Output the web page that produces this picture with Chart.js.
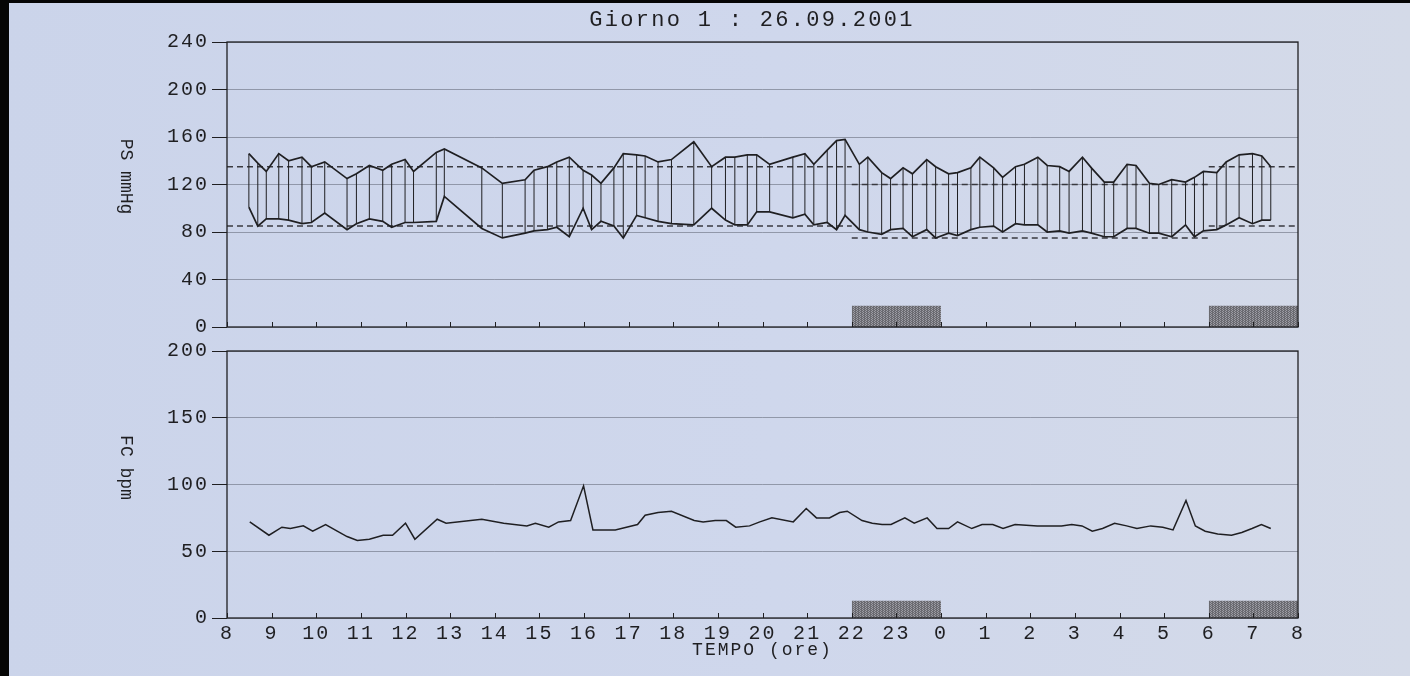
<!DOCTYPE html>
<html>
<head>
<meta charset="utf-8">
<script src="https://cdn.jsdelivr.net/npm/chart.js@4.4.1/dist/chart.umd.min.js"></script>
<style>
  html, body { margin: 0; padding: 0; }
  body {
    width: 1410px; height: 676px; overflow: hidden; position: relative;
    background: linear-gradient(90deg, #cbd4ea 0%, #cfd7ec 55%, #d4dae8 100%);
  }
  #edgeLeft { position: absolute; left: 0; top: 0; width: 9px; height: 676px; background: #050505; }
  #edgeTop { position: absolute; left: 0; top: 0; width: 1410px; height: 3px; background: #050505; }
  #bpChart { position: absolute; left: 0; top: 0; }
  #hrChart { position: absolute; left: 0; top: 336px; }
</style>
</head>
<body>
<div id="edgeLeft"></div>
<div id="edgeTop"></div>
<canvas id="bpChart" width="1410" height="342"></canvas>
<canvas id="hrChart" width="1410" height="340"></canvas>
<script>
// Misurazioni pressione (ore dalle 8 del giorno 1; 24+ = giorno dopo)
const bpTimes = [8.49, 8.69, 8.88, 9.16, 9.38, 9.68, 9.89, 10.19, 10.69, 10.90,
  11.19, 11.49, 11.69, 11.99, 12.18, 12.69, 12.87, 13.71, 14.17, 14.68,
  14.88, 15.18, 15.39, 15.67, 15.98, 16.17, 16.38, 16.67, 16.88, 17.18,
  17.37, 17.66, 17.96, 18.46, 18.86, 19.17, 19.38, 19.66, 19.87, 20.16,
  20.68, 20.95, 21.15, 21.45, 21.66, 21.85, 22.17, 22.36, 22.67, 22.87,
  23.15, 23.36, 23.68, 23.88, 24.17, 24.37, 24.67, 24.87, 25.18, 25.38,
  25.67, 25.87, 26.17, 26.38, 26.66, 26.87, 27.17, 27.37, 27.66, 27.87,
  28.17, 28.37, 28.67, 28.88, 29.17, 29.48, 29.68, 29.88, 30.18, 30.39,
  30.68, 30.98, 31.19, 31.39];
const sysValues = [146, 138, 131, 146, 140, 143, 135, 139, 125, 129,
  136, 132, 137, 141, 131, 147, 150, 134, 121, 124,
  132, 135, 139, 143, 132, 128, 121, 134, 146, 145,
  144, 139, 141, 156, 135, 143, 143, 145, 145, 137,
  143, 146, 137, 149, 157, 158, 137, 143, 130, 125,
  134, 129, 141, 135, 129, 130, 134, 143, 134, 126,
  135, 137, 143, 136, 135, 131, 143, 134, 122, 122,
  137, 136, 121, 120, 124, 122, 126, 131, 130, 139,
  145, 146, 144, 135];
const diaValues = [101, 85, 91, 91, 90, 87, 88, 96, 82, 87,
  91, 89, 84, 88, 88, 89, 110, 83, 75, 79,
  81, 82, 84, 76, 100, 82, 89, 85, 75, 94,
  92, 89, 87, 86, 100, 90, 86, 86, 97, 97,
  92, 95, 86, 88, 82, 94, 82, 80, 78, 82,
  83, 76, 82, 75, 79, 77, 82, 84, 85, 80,
  87, 86, 86, 80, 81, 79, 81, 79, 76, 76,
  83, 83, 79, 79, 76, 86, 76, 81, 82, 86,
  92, 87, 90, 90];

// Frequenza cardiaca
const hrTimes = [8.51, 8.94, 9.23, 9.42, 9.71, 9.92, 10.21, 10.42, 10.69, 10.92,
  11.19, 11.5, 11.71, 12.0, 12.21, 12.71, 12.91, 13.71, 14.2, 14.72,
  14.91, 15.21, 15.43, 15.7, 15.99, 16.2, 16.7, 17.2, 17.37, 17.66,
  17.96, 18.47, 18.67, 18.94, 19.19, 19.4, 19.71, 19.94, 20.21, 20.69,
  20.98, 21.21, 21.5, 21.73, 21.9, 22.23, 22.46, 22.68, 22.88, 23.19,
  23.4, 23.69, 23.91, 24.17, 24.37, 24.69, 24.92, 25.16, 25.39, 25.66,
  26.16, 26.7, 26.93, 27.16, 27.39, 27.62, 27.89, 28.16, 28.39, 28.7,
  28.97, 29.2, 29.49, 29.7, 29.92, 30.2, 30.51, 30.74, 30.97, 31.18, 31.39];
const hrValues = [72, 62, 68, 67, 69, 65, 70, 66, 61, 58,
  59, 62, 62, 71, 59, 74, 71, 74, 71, 69,
  71, 68, 72, 73, 99, 66, 66, 70, 77, 79,
  80, 73, 72, 73, 73, 68, 69, 72, 75, 72,
  82, 75, 75, 79, 80, 73, 71, 70, 70, 75,
  71, 75, 67, 67, 72, 67, 70, 70, 67, 70,
  69, 69, 70, 69, 65, 67, 71, 69, 67, 69,
  68, 66, 88, 69, 65, 63, 62, 64, 67, 70, 67];

// Limiti (tratteggio) per periodo: giorno, notte, mattino
const limitStart = [8, 22, 30];
const limitEnd = [22, 30, 32];
const sysLimit = [135, 120, 135];
const diaLimit = [85, 75, 85];

// Periodi di sonno (barre grigie)
const nightStart = [22, 30];
const nightEnd = [24, 32];
const bpNightLevel = 18;
const hrNightLevel = 13;

const bpTicks = [0, 40, 80, 120, 160, 200, 240];
const hrTicks = [0, 50, 100, 150, 200];
const hourMin = 8, hourMax = 32;

const chartTitle = 'Giorno 1 : 26.09.2001';
const bpAxisTitle = 'PS mmHg';
const hrAxisTitle = 'FC bpm';
const timeTitle = 'TEMPO (ore)';

const ink = '#1f1f22';
const gridColor = 'rgba(95, 100, 115, 0.55)';
const mono = "'Liberation Mono', 'DejaVu Sans Mono', monospace";

// retino delle barre notturne
function nightPattern() {
    const c = document.createElement('canvas');
    c.width = 3; c.height = 2;
    const g = c.getContext('2d');
    g.fillStyle = '#6a6a70'; g.fillRect(0, 0, 3, 2);
    g.fillStyle = '#9c9ca4'; g.fillRect(2, 0, 1, 1); g.fillRect(1, 1, 1, 1);
    return g.createPattern(c, 'repeat');
}
const pattern = nightPattern();

function nightDatasets(level) {
    return nightStart.map((s, i) => ({
        type: 'line',
        data: [{ x: s, y: level }, { x: nightEnd[i], y: level }],
        borderWidth: 0,
        borderColor: 'rgba(0,0,0,0)',
        backgroundColor: pattern,
        fill: 'origin',
        pointRadius: 0,
        order: 10
    }));
}

function limitDatasets(values) {
    return limitStart.map((s, i) => ({
        type: 'line',
        data: [{ x: s, y: values[i] }, { x: limitEnd[i], y: values[i] }],
        borderColor: '#3a3a40',
        borderWidth: 1.4,
        borderDash: [6, 4],
        pointRadius: 0,
        fill: false,
        order: 5
    }));
}

// cornice, tacche interne dell'asse x, titolo e titolo asse ruotato
const framePlugin = {
    id: 'frame',
    beforeDraw(chart) {
        chart.ctx.letterSpacing = '2px';
    },
    afterDatasetsDraw(chart, args, opts) {
        const { ctx, chartArea: a } = chart;
        const xs = chart.scales.x;
        ctx.save();
        ctx.strokeStyle = ink;
        ctx.lineWidth = 1.3;
        ctx.strokeRect(a.left, a.top, a.right - a.left, a.bottom - a.top);
        ctx.lineWidth = 1;
        xs.ticks.forEach(t => {
            const px = Math.round(xs.getPixelForValue(t.value)) + 0.5;
            ctx.beginPath();
            ctx.moveTo(px, a.bottom);
            ctx.lineTo(px, a.bottom - 5);
            ctx.stroke();
        });
        ctx.fillStyle = ink;
        ctx.textAlign = 'center';
        ctx.textBaseline = 'middle';
        if (opts.title) {
            ctx.letterSpacing = '2.3px';
            ctx.font = '22px ' + mono;
            ctx.fillText(opts.title, opts.titleX, opts.titleY);
        }
        ctx.letterSpacing = '0px';
        ctx.font = '18px ' + mono;
        ctx.translate(opts.axisX, (a.top + a.bottom) / 2 + opts.axisShift);
        ctx.rotate(Math.PI / 2);
        ctx.fillText(opts.text, 0, 0);
        ctx.restore();
    }
};

function yScale(ticks) {
    return {
        min: ticks[0],
        max: ticks[ticks.length - 1],
        ticks: { stepSize: ticks[1] - ticks[0], color: ink, padding: 3, font: { family: mono, size: 20 } },
        grid: { color: gridColor, tickColor: ink, tickLength: 15, lineWidth: 1 },
        border: { display: false },
        afterFit: s => { s.width = 72; }
    };
}

// Grafico pressione
new Chart(document.getElementById('bpChart').getContext('2d'), {
    type: 'line',
    data: {
        datasets: [
            {
                data: bpTimes.map((t, i) => ({ x: t, y: sysValues[i] })),
                borderColor: ink, borderWidth: 1.7, pointRadius: 0, tension: 0, order: 1
            },
            {
                data: bpTimes.map((t, i) => ({ x: t, y: diaValues[i] })),
                borderColor: ink, borderWidth: 1.7, pointRadius: 0, tension: 0, order: 1
            },
            {
                data: bpTimes.flatMap((t, i) => [{ x: t, y: diaValues[i] }, { x: t, y: sysValues[i] }, { x: t, y: null }]),
                borderColor: ink, borderWidth: 1, pointRadius: 0, spanGaps: false, order: 2
            },
            ...limitDatasets(sysLimit),
            ...limitDatasets(diaLimit),
            ...nightDatasets(bpNightLevel)
        ]
    },
    options: {
        responsive: false,
        animation: false,
        events: [],
        layout: { padding: { left: 155, right: 112, top: 42, bottom: 0 } },
        plugins: {
            legend: { display: false },
            tooltip: { enabled: false },
            frame: { title: chartTitle, titleX: 752, titleY: 20, text: bpAxisTitle, axisX: 126, axisShift: -8 }
        },
        scales: {
            x: {
                type: 'linear', min: hourMin, max: hourMax,
                ticks: { display: false, stepSize: 1 },
                grid: { drawOnChartArea: false, drawTicks: false },
                border: { display: false },
                afterFit: s => { s.height = 11; }
            },
            y: yScale(bpTicks)
        }
    },
    plugins: [framePlugin]
});

// Grafico frequenza cardiaca
new Chart(document.getElementById('hrChart').getContext('2d'), {
    type: 'line',
    data: {
        datasets: [
            {
                data: hrTimes.map((t, i) => ({ x: t, y: hrValues[i] })),
                borderColor: ink, borderWidth: 1.5, pointRadius: 0, tension: 0, order: 1
            },
            ...nightDatasets(hrNightLevel)
        ]
    },
    options: {
        responsive: false,
        animation: false,
        events: [],
        layout: { padding: { left: 155, right: 112, top: 14, bottom: 0 } },
        plugins: {
            legend: { display: false },
            tooltip: { enabled: false },
            frame: { text: hrAxisTitle, axisX: 126, axisShift: -17 }
        },
        scales: {
            x: {
                type: 'linear', min: hourMin, max: hourMax,
                ticks: {
                    stepSize: 1, autoSkip: false, maxRotation: 0, padding: 4,
                    color: ink, font: { family: mono, size: 20 },
                    callback: v => String(v % 24)
                },
                grid: { drawOnChartArea: false, drawTicks: false },
                border: { display: false },
                title: {
                    display: true, text: timeTitle, color: ink,
                    font: { family: mono, size: 18 },
                    padding: { top: 0, bottom: 15 }
                },
                afterFit: s => { s.height = 58; }
            },
            y: yScale(hrTicks)
        }
    },
    plugins: [framePlugin]
});
</script>
</body>
</html>
